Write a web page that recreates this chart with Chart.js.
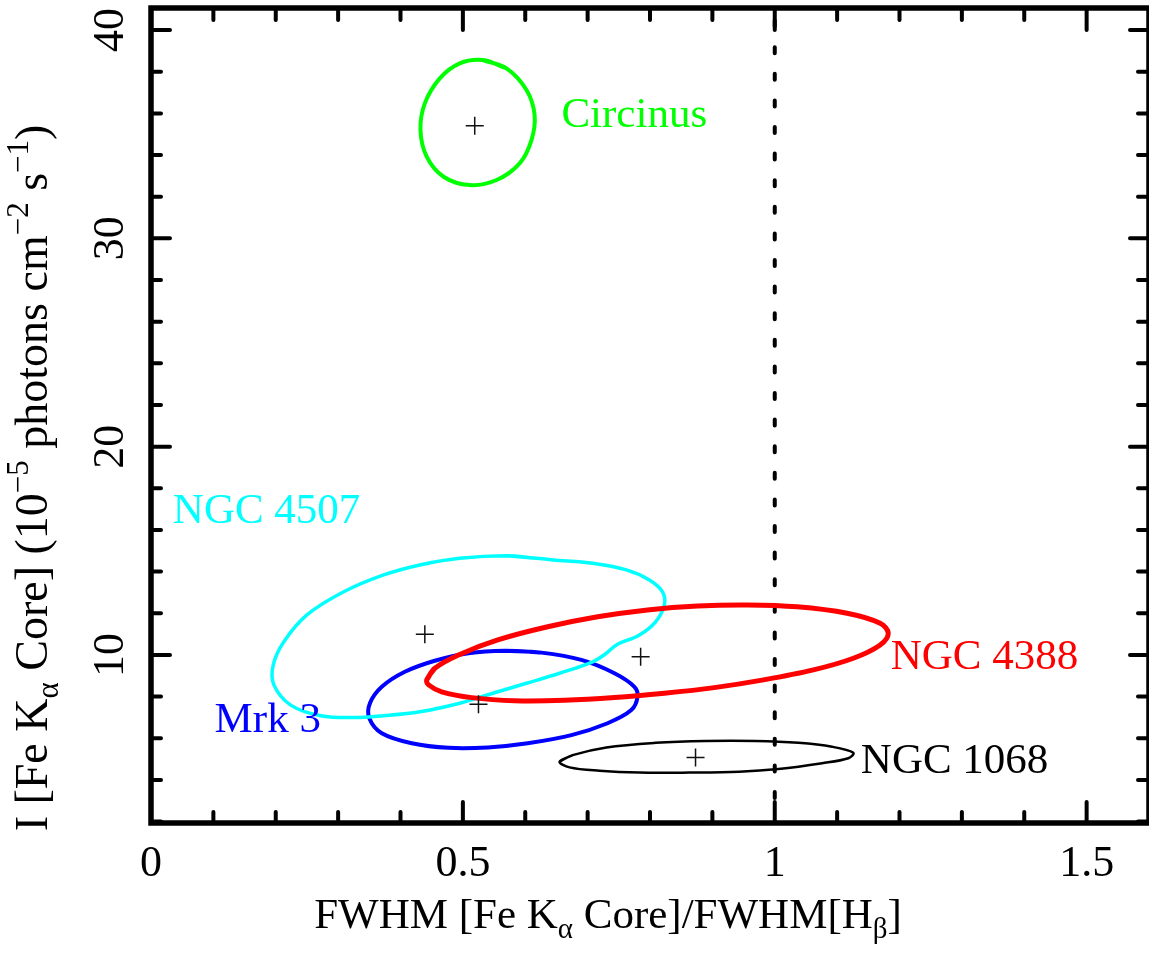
<!DOCTYPE html>
<html>
<head>
<meta charset="utf-8">
<script src="https://cdn.jsdelivr.net/npm/chart.js@4"></script>
<style>
    html, body { margin: 0; padding: 0; background: #fff; overflow: hidden; }
    canvas { display: block; }
</style>
</head>
<body>
<canvas id="chart" width="1149" height="953"></canvas>
<script>
// axis ticks
const xTicks = [0, 0.5, 1, 1.5];
const yTicks = [10, 20, 30, 40];
const refLine = 1;

// confidence contours: [FWHM ratio, I(Fe Ka core)]
const circinus = [
    [0.532, 38.56], [0.570, 38.16], [0.602, 37.12], [0.615, 35.92], [0.610, 34.72],
    [0.591, 33.60], [0.554, 32.80], [0.511, 32.56], [0.469, 32.96], [0.442, 33.92],
    [0.432, 35.20], [0.439, 36.48], [0.463, 37.68], [0.495, 38.40],
];
const ngc4507 = [
    [0.570, 14.76], [0.618, 14.64], [0.644, 14.56], [0.708, 14.40], [0.762, 14.08],
    [0.799, 13.60], [0.820, 13.03], [0.823, 12.40], [0.809, 11.59], [0.783, 10.96],
    [0.746, 10.48], [0.730, 10.08], [0.708, 9.67], [0.655, 9.12], [0.602, 8.64],
    [0.548, 8.16], [0.495, 7.68], [0.431, 7.27], [0.373, 7.08], [0.325, 6.99],
    [0.272, 7.08], [0.224, 7.59], [0.197, 8.56], [0.196, 9.52], [0.213, 10.63],
    [0.250, 11.92], [0.309, 13.03], [0.373, 13.84], [0.431, 14.32], [0.495, 14.64],
];
const mrk3 = [
    [0.567, 10.20], [0.626, 10.11], [0.690, 9.76], [0.743, 9.12], [0.775, 8.47],
    [0.780, 7.99], [0.770, 7.35], [0.732, 6.72], [0.674, 6.15], [0.604, 5.76],
    [0.540, 5.56], [0.477, 5.54], [0.418, 5.76], [0.370, 6.24], [0.350, 6.96],
    [0.351, 7.68], [0.370, 8.47], [0.407, 9.19], [0.455, 9.72], [0.509, 10.08],
];
const ngc4388 = [
    [0.442, 8.80], [0.455, 9.36], [0.493, 10.00], [0.556, 10.72], [0.636, 11.35],
    [0.716, 11.83], [0.796, 12.16], [0.876, 12.35], [0.956, 12.40], [1.036, 12.31],
    [1.116, 12.00], [1.169, 11.52], [1.182, 11.04], [1.169, 10.48], [1.126, 9.84],
    [1.062, 9.28], [0.982, 8.80], [0.903, 8.43], [0.823, 8.16], [0.743, 7.95],
    [0.663, 7.82], [0.583, 7.80], [0.514, 7.95], [0.466, 8.23], [0.445, 8.56],
];
const ngc1068 = [
    [0.655, 4.87], [0.676, 5.19], [0.730, 5.56], [0.809, 5.78], [0.889, 5.87],
    [0.969, 5.87], [1.038, 5.78], [1.092, 5.59], [1.126, 5.30], [1.118, 5.04],
    [1.076, 4.80], [1.006, 4.52], [0.943, 4.39], [0.863, 4.35], [0.783, 4.35],
    [0.719, 4.44], [0.671, 4.60],
];

// best-fit values (crosses)
const bestFit = [[0.519, 35.41], [0.439, 10.99], [0.525, 7.63], [0.785, 9.91], [0.873, 5.08]];

const sourceNames = ["Circinus", "NGC 4507", "Mrk 3", "NGC 4388", "NGC 1068"];
const labelAt = [[0.658, 35.36], [0.035, 16.33], [0.102, 6.31], [1.186, 9.32], [1.138, 4.33]];
const labelColors = ["#00ff00", "#00ffff", "#0000ff", "#ff0000", "#000000"];

const SERIF = '"Liberation Serif", "Times New Roman", serif';

const toPts = (arr) => arr.map(([x, y]) => ({ x, y }));
// repeat the first two points so the smoothed loop closes without a kink
const loop = (arr) => toPts(arr.concat(arr.slice(0, 2)));

const contour = (arr, color, width, order) => ({
    data: loop(arr),
    showLine: true,
    borderColor: color,
    borderWidth: width,
    pointRadius: 0,
    tension: 0.35,
    fill: false,
    order,
});

// text with sub/superscripts: parts = [[text, kind]], kind '' | 'sub' | 'sup'
const richWidth = (ctx, parts, size) => {
    let w = 0;
    for (const [t, kind] of parts) {
        ctx.font = `${kind ? Math.round(size * 0.68) : size}px ${SERIF}`;
        w += ctx.measureText(t).width;
    }
    return w;
};
const drawRich = (ctx, parts, size, x, y) => {
    for (const [t, kind] of parts) {
        const s = kind ? Math.round(size * 0.68) : size;
        ctx.font = `${s}px ${SERIF}`;
        const dy = kind === "sub" ? size * 0.24 : kind === "sup" ? -size * 0.42 : 0;
        ctx.fillText(t, x, y + dy);
        x += ctx.measureText(t).width;
    }
};

const frame = {
    id: "frame",
    beforeDatasetsDraw(chart) {
        const { ctx, chartArea: a, scales: { x } } = chart;
        const px = x.getPixelForValue(refLine);
        ctx.save();
        ctx.strokeStyle = "#000";
        ctx.lineWidth = 4;
        ctx.lineCap = "round";
        ctx.setLineDash([6, 20.6]);
        ctx.beginPath();
        ctx.moveTo(px, a.bottom - 25);
        ctx.lineTo(px, a.top);
        ctx.stroke();
        ctx.restore();
    },
    afterDatasetsDraw(chart) {
        const { ctx, chartArea: a, scales: { x, y } } = chart;
        ctx.save();
        ctx.strokeStyle = "#000";
        ctx.fillStyle = "#000";

        // ticks, pointing inwards on all four sides
        ctx.lineWidth = 4;
        ctx.lineCap = "round";
        ctx.beginPath();
        for (let i = 0; i <= 16; i++) {
            const p = x.getPixelForValue(i / 10);
            const major = i % 5 === 0;
            ctx.moveTo(p, a.bottom);
            ctx.lineTo(p, a.bottom - (major ? 21 : 11));
            ctx.moveTo(p, a.top);
            ctx.lineTo(p, a.top + (major ? 22 : 12));
        }
        for (let v = 2; v <= 40; v += 2) {
            const p = y.getPixelForValue(v);
            const major = v % 10 === 0;
            ctx.moveTo(a.left, p);
            ctx.lineTo(a.left + (major ? 19 : 10), p);
            ctx.moveTo(a.right, p);
            ctx.lineTo(a.right - (major ? 19 : 11), p);
        }
        ctx.stroke();

        // box
        ctx.lineWidth = 5.5;
        ctx.lineCap = "square";
        ctx.strokeRect(a.left, a.top, a.right - a.left, a.bottom - a.top);

        // tick labels
        ctx.font = `44px ${SERIF}`;
        ctx.textAlign = "center";
        ctx.textBaseline = "alphabetic";
        for (const v of xTicks) {
            ctx.fillText(String(v), x.getPixelForValue(v), 876);
        }
        for (const v of yTicks) {
            ctx.save();
            ctx.translate(123, y.getPixelForValue(v));
            ctx.rotate(-Math.PI / 2);
            ctx.fillText(String(v), 0, 0);
            ctx.restore();
        }

        // axis titles
        ctx.textAlign = "left";
        const xTitle = [["FWHM [Fe K", ""], ["\u03b1", "sub"], [" Core]/FWHM[H", ""], ["\u03b2", "sub"], ["]", ""]];
        const xw = richWidth(ctx, xTitle, 43);
        drawRich(ctx, xTitle, 43, 608 - xw / 2, 928);

        const yTitle = [
            ["I [Fe K", ""], ["\u03b1", "sub"], [" Core] (10", ""], ["\u22125", "sup"],
            [" photons cm", ""], ["\u22122", "sup"], [" s", ""], ["\u22121", "sup"], [")", ""],
        ];
        const yw = richWidth(ctx, yTitle, 46);
        ctx.save();
        ctx.translate(47, 478);
        ctx.rotate(-Math.PI / 2);
        drawRich(ctx, yTitle, 46, -yw / 2, 0);
        ctx.restore();

        // source names
        ctx.font = `43px ${SERIF}`;
        sourceNames.forEach((name, i) => {
            ctx.fillStyle = labelColors[i];
            ctx.fillText(name, x.getPixelForValue(labelAt[i][0]), y.getPixelForValue(labelAt[i][1]));
        });
        ctx.restore();
    },
};

const ctx = document.getElementById("chart").getContext("2d");
new Chart(ctx, {
    type: "scatter",
    data: {
        datasets: [
            {
                data: toPts(bestFit),
                pointStyle: "cross",
                pointRadius: 9,
                pointBorderWidth: 1.5,
                borderColor: "#111",
                showLine: false,
                order: 0,
            },
            contour(circinus, "#00ff00", 4, 1),
            contour(ngc4388, "#ff0000", 5, 2),
            contour(ngc4507, "#00ffff", 3.5, 3),
            contour(mrk3, "#0000ff", 4, 4),
            contour(ngc1068, "#000000", 2.5, 5),
        ],
    },
    options: {
        responsive: false,
        animation: false,
        layout: { autoPadding: false, padding: { left: 151, top: 8, right: -2, bottom: 130 } },
        plugins: { legend: { display: false }, tooltip: { enabled: false } },
        scales: {
            x: { type: "linear", min: 0, max: 1.6, display: false },
            y: { type: "linear", min: 1.93, max: 41.06, display: false },
        },
    },
    plugins: [frame],
});
</script>
</body>
</html>
